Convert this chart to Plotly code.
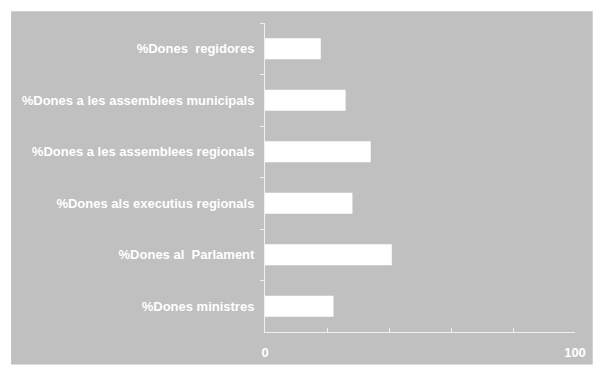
import plotly.graph_objects as go

categories = [
    "%Dones\u00a0 regidores",
    "%Dones a les assemblees municipals",
    "%Dones a les assemblees regionals",
    "%Dones als executius regionals",
    "%Dones al\u00a0 Parlament",
    "%Dones ministres",
]
values = [18.0, 26.0, 34.1, 28.2, 40.9, 22.1]
x_tick_vals = [0, 20, 40, 60, 80, 100]
x_tick_text = ["0", "", "", "", "", "100"]

W, H = 598, 372
ml, mr, mt, mb = 265, 18, 23, 36
gray = "#c0c0c0"
font = "Liberation Sans, Arial, sans-serif"

fig = go.Figure(go.Bar(
    x=values, y=categories, orientation="h",
    marker=dict(color="white", line=dict(width=0)),
    width=0.41,
))

pw = W - ml - mr
ph = H - mt - mb
# gray panel in figure pixels from (7,11) to (598,369)
fig.add_shape(type="rect", xref="paper", yref="paper", layer="below",
              x0=(7 - ml) / pw, x1=(W - ml) / pw,
              y0=(H - mb - 369) / ph, y1=(H - mb - 11) / ph,
              fillcolor=gray, line=dict(width=0))

fig.update_layout(
    width=W, height=H,
    margin=dict(l=ml, r=mr, t=mt, b=mb),
    paper_bgcolor="white", plot_bgcolor=gray,
    showlegend=False,
    font=dict(family=font, color="white", size=13),
    xaxis=dict(range=[0, 100], tickvals=x_tick_vals, ticktext=x_tick_text,
               showgrid=False, zeroline=False, showline=True, linecolor="#f0f0f0",
               linewidth=1, ticks="inside", ticklen=4, tickcolor="#f0f0f0",
               tickfont=dict(family=font, size=13, color="white", weight="bold"),
               ticklabelstandoff=8, ticklabeloverflow="allow", fixedrange=True),
    yaxis=dict(autorange="reversed", type="category", showgrid=False, zeroline=False,
               showline=True, linecolor="#f0f0f0", linewidth=1,
               ticks="outside", ticklen=4, tickcolor="#f0f0f0", tickson="boundaries",
               tickfont=dict(family=font, size=13, color="white", weight="bold"),
               ticklabelstandoff=7, fixedrange=True),
)

fig.write_html(
    "out.html",
    config={"displayModeBar": False, "staticPlot": True},
    post_script="document.body.style.margin='0';"
                "document.documentElement.style.overflow='hidden';"
                "document.body.style.overflow='hidden';",
)
